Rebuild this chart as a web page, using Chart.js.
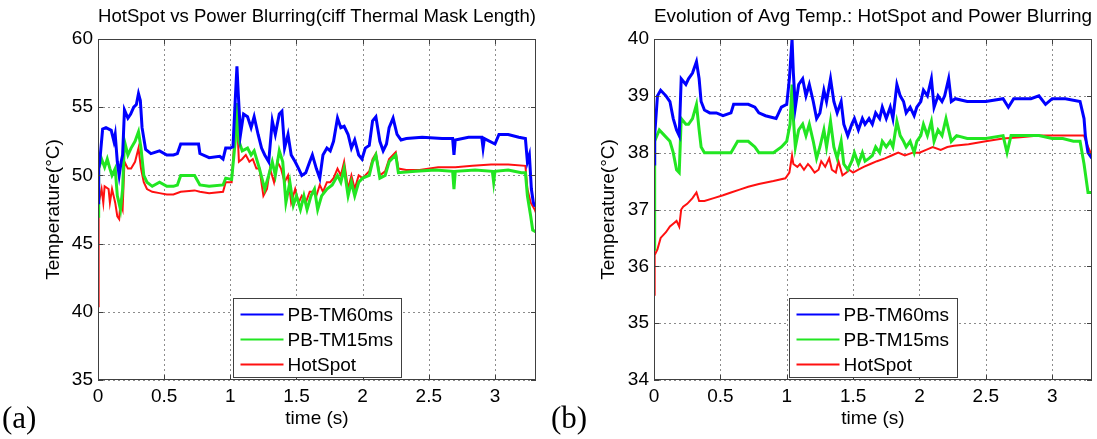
<!DOCTYPE html>
<html><head><meta charset="utf-8">
<script src="https://cdn.jsdelivr.net/npm/chart.js@4.4.0/dist/chart.umd.min.js"></script>
<style>
html,body{margin:0;padding:0;background:#fff;width:1097px;height:439px;overflow:hidden;position:relative}
.w{position:absolute;top:0;height:439px;width:548px}
.lab{position:absolute;font-family:'Liberation Serif','Times New Roman',serif;font-size:31px;line-height:34px;top:401px;color:#000}
</style></head><body>
<div class="w" style="left:0"><canvas id="ca" width="548" height="439"></canvas></div>
<div class="w" style="left:549px"><canvas id="cb" width="548" height="439"></canvas></div>
<div class="lab" style="left:2px">(a)</div>
<div class="lab" style="left:551px">(b)</div>
<script>
// ---- data ----
const seriesLabels = ['PB-TM60ms', 'PB-TM15ms', 'HotSpot'];
const xTicks = [0, 0.5, 1, 1.5, 2, 2.5, 3];
const yTicksA = [35, 40, 45, 50, 55, 60];
const yTicksB = [34, 35, 36, 37, 38, 39, 40];

// (a) hot-spot temperature, [time s, temperature °C]
const a_PB60 = [[0,48],[0.005,50.5],[0.013,51],[0.035,53.4],[0.06,53.5],[0.1,53.3],[0.12,52.5],[0.13,53],[0.146,51],[0.16,50],[0.175,51],[0.186,51.5],[0.2,54.8],[0.226,54.2],[0.247,54.5],[0.27,55],[0.29,55.2],[0.306,56],[0.32,55.5],[0.333,53.5],[0.36,51.9],[0.4,51.6],[0.465,51.8],[0.52,51.5],[0.57,51.5],[0.6,51.6],[0.625,52.3],[0.68,52.3],[0.76,52.3],[0.77,51.6],[0.84,51.3],[0.92,51.4],[0.945,51.2],[0.965,52],[1.0,52],[1.02,52.1],[1.037,55.5],[1.05,58],[1.06,56],[1.077,53],[1.1,54.5],[1.13,54.3],[1.157,53.5],[1.18,54.3],[1.21,53],[1.236,52],[1.26,51.5],[1.29,51],[1.317,54],[1.34,53],[1.37,54.5],[1.39,54.7],[1.41,52],[1.436,53],[1.46,51.5],[1.49,51],[1.516,50.5],[1.54,50],[1.57,50.2],[1.6,51],[1.62,51.5],[1.65,50.5],[1.676,49.8],[1.7,51.5],[1.73,52],[1.755,51.8],[1.78,52.5],[1.81,54.2],[1.835,53.5],[1.86,53.6],[1.89,53],[1.915,52],[1.94,52.6],[1.97,51.5],[1.995,51.2],[2.02,52],[2.05,52.2],[2.075,54],[2.1,54.3],[2.13,52.5],[2.155,51.8],[2.18,52.3],[2.2,53.5],[2.23,54.2],[2.26,53],[2.29,52.6],[2.33,52.7],[2.45,52.8],[2.6,52.7],[2.68,52.7],[2.69,51.5],[2.7,52.6],[2.8,52.8],[2.9,52.8],[2.91,52.0],[2.92,52.7],[3.0,52.3],[3.03,53],[3.1,53],[3.18,52.8],[3.23,52.7],[3.245,51],[3.26,51.5],[3.275,49],[3.29,48],[3.3,47.8],[3.32,47.7]];
const a_PB15 = [[0,47],[0.005,50.5],[0.027,51.2],[0.05,50.6],[0.07,51.2],[0.09,50.5],[0.106,50],[0.13,50.5],[0.146,48.5],[0.17,47.5],[0.186,49],[0.2,52.5],[0.226,51.5],[0.25,52],[0.28,52.5],[0.306,53.2],[0.325,52],[0.346,50],[0.37,49.5],[0.41,49.2],[0.465,49.5],[0.52,49.2],[0.57,49.2],[0.6,49.3],[0.625,50],[0.73,50],[0.77,49.3],[0.84,49.2],[0.945,49.3],[0.965,49.8],[1.01,49.7],[1.037,52.5],[1.05,55.3],[1.065,52.5],[1.09,51.8],[1.13,52],[1.157,51.5],[1.18,51.8],[1.22,50.5],[1.26,49],[1.29,50],[1.317,51],[1.34,50],[1.37,51.8],[1.396,51],[1.42,48],[1.45,49.5],[1.476,47.8],[1.5,48.5],[1.53,47.5],[1.556,48.5],[1.58,47.5],[1.61,48.5],[1.636,49],[1.66,47.5],[1.69,48.5],[1.73,49],[1.77,49.3],[1.81,50],[1.835,49.5],[1.86,50.5],[1.89,48.5],[1.915,49.5],[1.94,48.5],[1.97,49.5],[2.0,49.8],[2.05,50],[2.075,51],[2.1,51.5],[2.13,49.8],[2.17,50],[2.2,51],[2.25,51.5],[2.27,50.2],[2.4,50.3],[2.55,50.4],[2.68,50.3],[2.69,49],[2.7,50.3],[2.85,50.4],[2.98,50.3],[2.99,49.5],[3.0,50.3],[3.1,50.4],[3.2,50.2],[3.23,50.2],[3.245,48.5],[3.27,47],[3.285,46],[3.32,45.8]];
const a_HotSpot = [[0,40.4],[0.005,48],[0.027,49],[0.04,48],[0.05,49.2],[0.08,49],[0.09,48],[0.106,49],[0.13,48],[0.146,47],[0.16,46.8],[0.17,48],[0.186,47.5],[0.2,51],[0.226,50.5],[0.25,50.5],[0.28,51],[0.306,52],[0.325,50.5],[0.346,49.5],[0.37,49],[0.41,48.8],[0.465,48.7],[0.52,48.6],[0.57,48.6],[0.625,48.8],[0.73,48.9],[0.77,48.8],[0.84,48.7],[0.945,48.8],[0.965,49.5],[1.01,49.5],[1.03,52.5],[1.05,54.2],[1.065,51],[1.09,51.2],[1.117,51.5],[1.144,51],[1.17,51.2],[1.197,50.5],[1.22,50.5],[1.25,48.5],[1.277,49],[1.3,50.5],[1.33,49.5],[1.356,51],[1.383,50.5],[1.41,49.5],[1.436,50],[1.46,48],[1.49,49],[1.516,48],[1.54,48.5],[1.57,48],[1.6,48.8],[1.62,48.8],[1.65,48.5],[1.676,49.3],[1.7,48.8],[1.73,49.5],[1.755,49.5],[1.78,49.8],[1.81,50.5],[1.835,50],[1.86,51],[1.89,49],[1.915,50],[1.94,49],[1.97,50],[2.0,49.8],[2.05,50.3],[2.075,51.2],[2.1,51.6],[2.13,50],[2.17,50.3],[2.2,51.2],[2.25,51.7],[2.27,50.5],[2.33,50.4],[2.43,50.4],[2.57,50.6],[2.7,50.6],[2.83,50.7],[2.97,50.8],[3.1,50.8],[3.23,50.7],[3.245,49],[3.27,48],[3.3,47.5],[3.32,47]];

// (b) average temperature, [time s, temperature °C]
const b_PB60 = [[0,37.8],[0.005,38.3],[0.026,39],[0.05,39.1],[0.09,39],[0.12,38.9],[0.145,38.6],[0.17,38.4],[0.19,38.3],[0.205,39.3],[0.24,39.2],[0.26,39.3],[0.29,39.4],[0.32,39.6],[0.34,39.3],[0.355,38.9],[0.38,38.75],[0.42,38.7],[0.47,38.7],[0.52,38.65],[0.58,38.7],[0.6,38.85],[0.71,38.85],[0.76,38.8],[0.79,38.7],[0.84,38.65],[0.92,38.6],[0.96,38.8],[1.0,38.85],[1.02,39.3],[1.04,40],[1.05,39.4],[1.065,38.8],[1.09,39.2],[1.12,39.3],[1.145,39],[1.17,39.2],[1.2,38.9],[1.225,38.6],[1.25,38.7],[1.28,39.1],[1.3,38.9],[1.33,39.3],[1.355,38.9],[1.38,38.7],[1.41,38.9],[1.43,38.5],[1.46,38.3],[1.49,38.5],[1.51,38.6],[1.54,38.4],[1.57,38.6],[1.59,38.5],[1.62,38.6],[1.645,38.5],[1.67,38.7],[1.7,38.6],[1.72,38.8],[1.75,38.6],[1.78,38.8],[1.8,38.6],[1.83,39.2],[1.855,39],[1.88,38.9],[1.9,38.7],[1.93,38.8],[1.96,38.65],[1.98,38.8],[2.01,38.9],[2.03,39.1],[2.06,39],[2.09,39.3],[2.11,38.8],[2.14,39],[2.17,38.9],[2.19,39],[2.22,39.3],[2.24,38.9],[2.27,38.95],[2.36,38.9],[2.5,38.9],[2.63,38.95],[2.67,38.8],[2.71,38.95],[2.84,38.95],[2.9,39],[2.95,38.85],[3.0,38.95],[3.1,38.95],[3.21,38.9],[3.24,38.6],[3.25,38.3],[3.27,38],[3.3,37.9]];
const b_PB15 = [[0,36.3],[0.005,38.2],[0.04,38.4],[0.08,38.3],[0.12,38.2],[0.145,38],[0.17,37.7],[0.19,37.65],[0.205,38.6],[0.24,38.5],[0.26,38.5],[0.29,38.6],[0.32,38.85],[0.34,38.4],[0.355,38.1],[0.38,38],[0.45,38],[0.52,38],[0.58,38],[0.63,38.2],[0.71,38.2],[0.76,38.1],[0.79,38],[0.9,38],[0.96,38.1],[1.0,38.2],[1.025,38.5],[1.04,39.2],[1.05,38.6],[1.065,38.1],[1.09,38.4],[1.12,38.5],[1.145,38.3],[1.17,38.5],[1.2,38.2],[1.225,37.9],[1.25,38.1],[1.28,38.4],[1.3,38.1],[1.33,38.55],[1.355,38.1],[1.38,37.9],[1.41,38.2],[1.43,37.8],[1.46,37.7],[1.49,37.85],[1.51,38],[1.54,37.8],[1.57,38],[1.59,37.85],[1.62,37.9],[1.645,37.95],[1.67,38.1],[1.7,38],[1.72,38.2],[1.75,38.1],[1.78,38.2],[1.8,38.1],[1.83,38.55],[1.855,38.3],[1.88,38.2],[1.9,38.1],[1.93,38.2],[1.96,38],[1.98,38.2],[2.01,38.3],[2.03,38.5],[2.06,38.3],[2.09,38.55],[2.11,38.2],[2.14,38.4],[2.17,38.3],[2.2,38.6],[2.24,38.2],[2.28,38.3],[2.36,38.25],[2.5,38.25],[2.63,38.3],[2.66,38],[2.69,38.3],[2.84,38.3],[2.9,38.3],[3.0,38.25],[3.08,38.25],[3.16,38.2],[3.21,38.2],[3.24,37.8],[3.27,37.3],[3.3,37.3]];
const b_HotSpot = [[0,35.5],[0.005,36.2],[0.026,36.3],[0.05,36.5],[0.09,36.6],[0.12,36.7],[0.145,36.75],[0.17,36.8],[0.19,36.7],[0.205,37],[0.22,37.05],[0.25,37.1],[0.29,37.2],[0.32,37.3],[0.34,37.15],[0.38,37.15],[0.45,37.2],[0.52,37.25],[0.58,37.3],[0.645,37.35],[0.71,37.4],[0.79,37.45],[0.9,37.5],[0.99,37.55],[1.02,37.65],[1.04,37.95],[1.05,37.8],[1.08,37.75],[1.1,37.8],[1.13,37.7],[1.16,37.8],[1.18,37.75],[1.21,37.65],[1.24,37.7],[1.26,37.85],[1.29,37.75],[1.32,37.9],[1.34,37.7],[1.37,37.65],[1.39,37.85],[1.42,37.6],[1.45,37.65],[1.47,37.7],[1.5,37.65],[1.54,37.7],[1.58,37.75],[1.63,37.8],[1.68,37.85],[1.74,37.9],[1.79,37.95],[1.84,38],[1.89,37.95],[1.95,38],[2.0,38],[2.05,38.05],[2.1,38.1],[2.16,38.05],[2.21,38.1],[2.26,38.12],[2.37,38.15],[2.5,38.2],[2.63,38.25],[2.76,38.27],[2.9,38.3],[3.03,38.3],[3.16,38.3],[3.24,38.3],[3.27,38.1],[3.3,37.95]];

// ---- styling ----
const FONT = "'Liberation Sans', Arial, Helvetica, sans-serif";
const COLORS = ['#0000ff', '#22e622', '#ff1010'];
const WIDTHS = [3, 3, 2];

const gridPlugin = {
  id: 'dottedGrid',
  beforeDatasetsDraw(chart) {
    const {ctx, chartArea: a, scales: {x, y}} = chart;
    ctx.save();
    ctx.strokeStyle = '#8c8c8c';
    ctx.lineWidth = 1;
    ctx.setLineDash([2, 3]);
    ctx.beginPath();
    x.ticks.forEach(t => {
      const px = Math.round(x.getPixelForValue(t.value)) + 0.5;
      ctx.moveTo(px, a.top); ctx.lineTo(px, a.bottom);
    });
    y.ticks.forEach(t => {
      const py = Math.round(y.getPixelForValue(t.value)) + 0.5;
      ctx.moveTo(a.left, py); ctx.lineTo(a.right, py);
    });
    ctx.stroke();
    ctx.restore();
  }
};

const framePlugin = {
  id: 'frame',
  afterDatasetsDraw(chart) {
    const {ctx, chartArea: a, scales: {x, y}} = chart;
    ctx.save();
    ctx.strokeStyle = '#404040';
    ctx.lineWidth = 1;
    ctx.beginPath();
    x.ticks.forEach(t => {
      const px = Math.round(x.getPixelForValue(t.value)) + 0.5;
      ctx.moveTo(px, a.bottom); ctx.lineTo(px, a.bottom - 5);
      ctx.moveTo(px, a.top); ctx.lineTo(px, a.top + 5);
    });
    y.ticks.forEach(t => {
      const py = Math.round(y.getPixelForValue(t.value)) + 0.5;
      ctx.moveTo(a.left, py); ctx.lineTo(a.left + 5, py);
      ctx.moveTo(a.right, py); ctx.lineTo(a.right - 5, py);
    });
    ctx.stroke();
    ctx.strokeRect(Math.round(a.left) + 0.5, Math.round(a.top) + 0.5,
                   Math.round(a.right - a.left) - 1, Math.round(a.bottom - a.top) - 1);
    // legend (MATLAB "South" location)
    const w = 168, h = 79;
    const lx = Math.round((a.left + a.right) / 2 - w / 2) + 0.5;
    const ly = Math.round(a.bottom - h - 3) + 0.5;
    ctx.fillStyle = '#fff';
    ctx.fillRect(lx, ly, w, h);
    ctx.strokeRect(lx, ly, w, h);
    ctx.font = '19px ' + FONT;
    ctx.textBaseline = 'middle';
    ctx.textAlign = 'left';
    chart.data.datasets.forEach((ds, i) => {
      const ry = ly + 16 + i * 25;
      ctx.strokeStyle = ds.borderColor;
      ctx.lineWidth = 2;
      ctx.beginPath(); ctx.moveTo(lx + 7, ry); ctx.lineTo(lx + 50, ry); ctx.stroke();
      ctx.fillStyle = '#000';
      ctx.fillText(ds.label, lx + 54, ry + 1);
    });
    ctx.restore();
  }
};

function build(id, series, cfg) {
  return new Chart(document.getElementById(id), {
    type: 'line',
    data: {
      datasets: series.map((s, i) => ({
        label: seriesLabels[i],
        data: s.map(p => ({x: p[0], y: p[1]})),
        borderColor: COLORS[i], borderWidth: WIDTHS[i],
        pointRadius: 0, tension: 0, fill: false
      }))
    },
    options: {
      responsive: false, animation: false, devicePixelRatio: 1,
      layout: {padding: {left: 0, right: cfg.padRight, top: 0, bottom: 0}},
      plugins: {
        legend: {display: false}, tooltip: {enabled: false},
        title: {display: true, text: cfg.title, fullSize: false, color: '#000',
                font: {family: FONT, size: 19, weight: 'normal'},
                padding: {top: 5, bottom: 11.2}}
      },
      scales: {
        x: {
          type: 'linear', min: 0, max: cfg.xMax,
          afterBuildTicks: s => { s.ticks = xTicks.map(v => ({value: v})); },
          afterFit: s => { s.height = 439 - cfg.bottom; },
          grid: {display: false, drawTicks: false},
          border: {display: false},
          ticks: {color: '#000', font: {family: FONT, size: 19}, padding: 5, autoSkip: false, maxRotation: 0,
                  callback: v => String(v)},
          title: {display: true, text: 'time (s)', color: '#000', font: {family: FONT, size: 19},
                  padding: {top: 0, bottom: 9}}
        },
        y: {
          type: 'linear', min: cfg.yMin, max: cfg.yMax,
          afterBuildTicks: s => { s.ticks = cfg.yTicks.map(v => ({value: v})); },
          afterFit: s => { s.width = cfg.yWidth; },
          grid: {display: false, drawTicks: false},
          border: {display: false},
          ticks: {color: '#000', font: {family: FONT, size: 19}, padding: 5, autoSkip: false,
                  callback: v => String(v)},
          title: {display: true, text: 'Temperature(°C)', color: '#000', font: {family: FONT, size: 19},
                  padding: {top: cfg.yTitlePad, bottom: 0}}
        }
      }
    },
    plugins: [gridPlugin, framePlugin]
  });
}

build('ca', [a_PB60, a_PB15, a_HotSpot], {
  title: 'HotSpot vs Power Blurring(ciff Thermal Mask Length)',
  xMax: 3.31, yMin: 35, yMax: 60, yTicks: yTicksA,
  yWidth: 98, padRight: 12, bottom: 380, yTitlePad: 42
});
build('cb', [b_PB60, b_PB15, b_HotSpot], {
  title: 'Evolution of Avg Temp.: HotSpot and Power Blurring',
  xMax: 3.3, yMin: 34, yMax: 40, yTicks: yTicksB,
  yWidth: 105, padRight: 5, bottom: 380, yTitlePad: 48
});
</script>
</body></html>
